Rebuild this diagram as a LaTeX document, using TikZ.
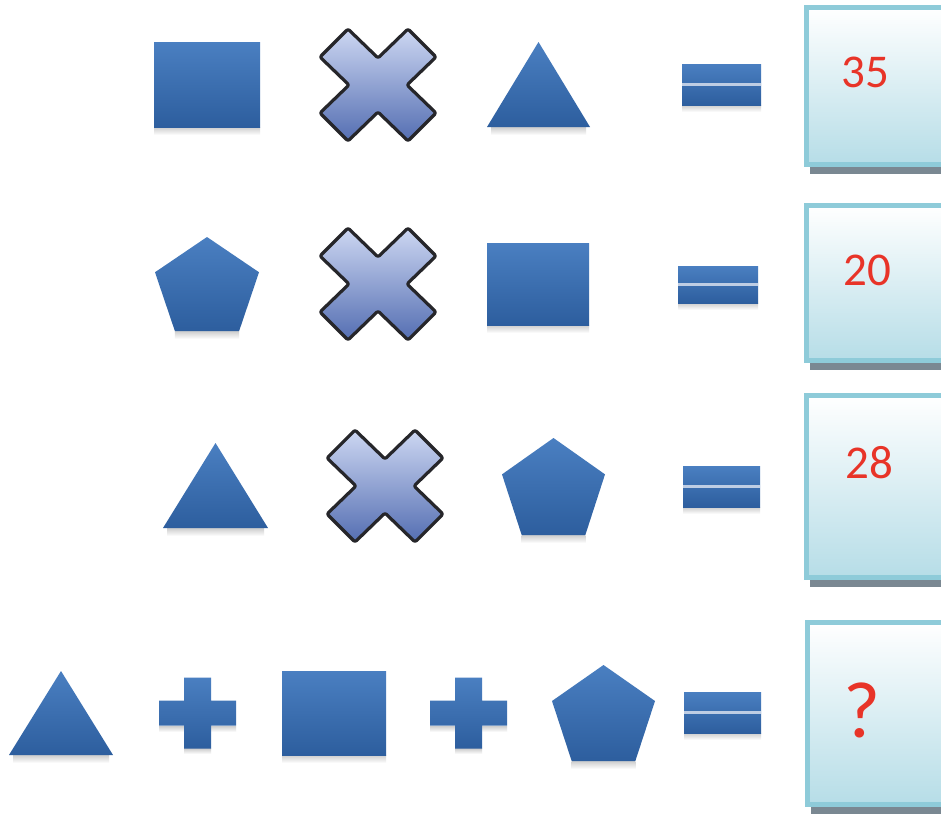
\documentclass[tikz,border=0pt]{standalone}
\usepackage{fontspec}
\setmainfont{Carlito}
\definecolor{bluetop}{RGB}{74,127,193}
\definecolor{bluebot}{RGB}{45,94,158}
\definecolor{xtop}{RGB}{205,215,242}
\definecolor{xbot}{RGB}{84,110,178}
\definecolor{xedge}{RGB}{38,38,42}
\definecolor{boxbot}{RGB}{182,221,231}
\definecolor{boxedge}{RGB}{142,203,217}
\definecolor{boxshadow}{RGB}{122,136,146}
\definecolor{numred}{RGB}{232,52,40}
\definecolor{shadowgray}{RGB}{205,205,205}
\definecolor{gapline}{RGB}{190,205,228}
\tikzset{
  blueshape/.style={top color=bluetop, bottom color=bluebot, draw=none},
  softshadow/.style={top color=shadowgray, bottom color=white, draw=none},
  xshape/.style={top color=xtop, bottom color=xbot, draw=xedge, line width=3.2pt, rounded corners=2pt, line join=round},
  answerbox/.style={top color=white, bottom color=boxbot, draw=boxedge, line width=5pt},
  numtext/.style={text=numred, font=\fontsize{47}{50}\selectfont, inner sep=0pt},
  qtext/.style={text=numred, font=\fontsize{80}{84}\selectfont, inner sep=0pt},
}
% rectangle: x1,y1,x2,y2
\newcommand\BRect[4]{%
  \shade[softshadow] (#1,#4) rectangle (#3,#4+8);
  \shade[blueshape] (#1,#2) rectangle (#3,#4);}
% triangle: x1,ytop,x2,ybottom
\newcommand\BTri[4]{%
  \shade[softshadow] (#1+4,#4) rectangle (#3-4,#4+8);
  \shade[blueshape] ({(#1+#3)/2},#2) -- (#3,#4) -- (#1,#4) -- cycle;}
% pentagon: x1,ytop,x2,ybottom
\newcommand\BPenta[4]{%
  \pgfmathsetmacro\pcx{(#1+#3)/2}%
  \pgfmathsetmacro\phw{(#3-#1)/2*0.618}%
  \pgfmathsetmacro\pmy{#2+0.375*(#4-#2)}%
  \shade[softshadow] (\pcx-\phw,#4) rectangle (\pcx+\phw,#4+8);
  \shade[blueshape] (\pcx,#2) -- (#3,\pmy) -- (\pcx+\phw,#4) -- (\pcx-\phw,#4) -- (#1,\pmy) -- cycle;}
% multiplication cross centred at x,y
\newcommand\MCross[2]{%
  \draw[xshape, shift={(#1,#2)}] (-30,-56) -- (0,-27) -- (30,-56) -- (58,-28) -- (29,0) -- (58,28) -- (30,56) -- (0,27) -- (-30,56) -- (-58,28) -- (-29,0) -- (-58,-28) -- cycle;}
% plus centred at x,y
\newcommand\BPlus[2]{%
  \begin{scope}[shift={(#1,#2)}]
  \shade[softshadow] (-38.5,13) rectangle (38.5,19);
  \shade[softshadow] (-13.5,35.5) rectangle (13.5,41);
  \shade[blueshape] (-13.5,-35.5) -- (13.5,-35.5) -- (13.5,-12.5) -- (38.5,-12.5) -- (38.5,12.5) -- (13.5,12.5) -- (13.5,35.5) -- (-13.5,35.5) -- (-13.5,12.5) -- (-38.5,12.5) -- (-38.5,-12.5) -- (-13.5,-12.5) -- cycle;
  \end{scope}}
% equals: x1,y1,x2,y2
\newcommand\BEq[4]{%
  \shade[softshadow] (#1,#4) rectangle (#3,#4+7);
  \shade[blueshape] (#1,#2) rectangle (#3,#4);
  \fill[gapline] (#1,{(#2+#4)/2-1.6}) rectangle (#3,{(#2+#4)/2+1.6});}
% answer box: outer x1, outer ytop, outer ybottom
\newcommand\AnsBox[3]{%
  \fill[boxshadow] (#1+6,#3) rectangle (960,#3+7);
  \shade[answerbox] (#1+2.5,#2+2.5) rectangle (970,#3-2.5);}
\begin{document}
\begin{tikzpicture}[x=1pt,y=-1pt]
\useasboundingbox (0,0) rectangle (941,814);
\clip (0,0) rectangle (941,814);
\fill[white] (0,0) rectangle (941,814);
% row 1
\BRect{154}{42}{260}{127}
\MCross{378}{85}
\BTri{487}{42}{590}{127}
\BEq{682}{64}{761}{105}
\AnsBox{804}{5}{167}
\node[numtext] (a1) at (865,72) {35};
% row 2
\BPenta{155}{237}{259}{331}
\MCross{378}{284}
\BRect{487}{243}{589}{325}
\BEq{678}{266}{758}{303}
\AnsBox{804}{203}{363}
\node[numtext] (a2) at (867,270) {20};
% row 3
\BTri{163}{443}{268}{528}
\MCross{385}{486}
\BPenta{502}{438}{605}{535}
\BEq{683}{466}{760}{507}
\AnsBox{804}{393}{580}
\node[numtext] (a3) at (869,463) {28};
% row 4
\BTri{9}{671}{113}{755}
\BPlus{197.5}{713}
\BRect{282}{671}{386}{755}
\BPlus{468.5}{713}
\BPenta{552}{665}{655}{761}
\BEq{684}{692}{761}{733}
\AnsBox{805}{620}{807}
\node[qtext] (a4) at (862,710) {?};
\end{tikzpicture}
\end{document}
